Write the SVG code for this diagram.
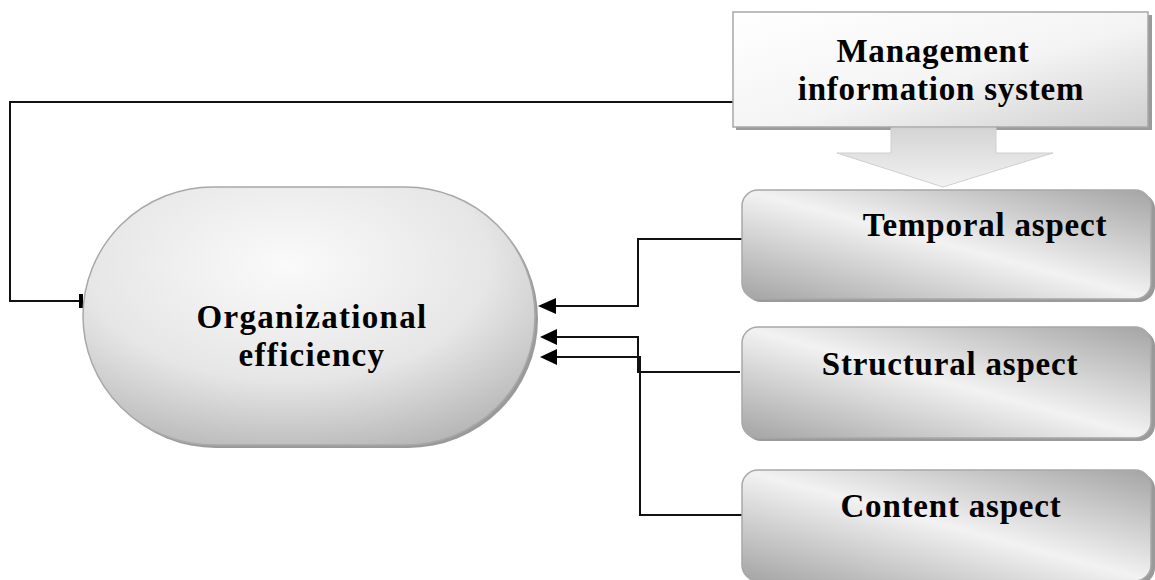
<svg xmlns="http://www.w3.org/2000/svg" width="1155" height="580" viewBox="0 0 1155 580">
<defs>
<style>
.t{font-family:"Liberation Serif","Times New Roman",serif;font-weight:bold;font-size:33px;fill:#000;text-anchor:middle;letter-spacing:0.8px}
.c{fill:none;stroke:#111;stroke-width:2}
.sh{fill:#9a9a9a}
.bx{stroke:#a8a8a8;stroke-width:1.5}
</style>
<linearGradient id="gAsp" x1="0" y1="1" x2="1" y2="0">
<stop offset="0" stop-color="#a4a4a4"/>
<stop offset="0.5" stop-color="#f2f2f2"/>
<stop offset="1" stop-color="#a4a4a4"/>
</linearGradient>
<linearGradient id="gMis" x1="0" y1="0" x2="1" y2="1">
<stop offset="0" stop-color="#ffffff"/>
<stop offset="0.55" stop-color="#f4f4f4"/>
<stop offset="1" stop-color="#cfcfcf"/>
</linearGradient>
<linearGradient id="gArr" x1="0" y1="0" x2="0" y2="1">
<stop offset="0" stop-color="#d4d4d4"/>
<stop offset="1" stop-color="#f2f2f2"/>
</linearGradient>
<radialGradient id="gOrg" cx="0.45" cy="0.3" r="0.75">
<stop offset="0" stop-color="#fafafa"/>
<stop offset="0.6" stop-color="#e6e6e6"/>
<stop offset="1" stop-color="#b8b8b8"/>
</radialGradient>
<marker id="tee" markerWidth="6" markerHeight="16" refX="4" refY="8" orient="auto" markerUnits="userSpaceOnUse">
<rect x="1" y="1" width="4" height="14" fill="#000"/>
</marker>
</defs>

<g id="connectors">
<polyline class="c" points="733,102 10,102 10,301 82,301" marker-end="url(#tee)"/>
<polyline class="c" points="742,239 638,239 638,306 545,306"/>
<polyline class="c" points="740,372 638,372 638,337 545,337"/>
<polyline class="c" points="742,515 640,515 640,357 545,357"/>
<path d="M538,306 L556,298 L556,314 z M540,337 L557,329 L557,345 z M540,357 L557,349 L557,365 z" fill="#000"/>
</g>

<g id="org">
<rect x="86" y="190" width="452" height="258" rx="130" ry="129" class="sh"/>
<rect x="83" y="187" width="452" height="258" rx="130" ry="129" fill="url(#gOrg)" class="bx"/>
<text class="t" x="312" y="328" style="letter-spacing:1.3px">Organizational</text>
<text class="t" x="312" y="366" style="letter-spacing:1.3px">efficiency</text>
</g>

<g id="mis">
<rect x="736" y="15" width="416" height="115" class="sh"/>
<rect x="733" y="12" width="415" height="115" fill="url(#gMis)" class="bx"/>
<text class="t" x="933" y="62">Management</text>
<text class="t" x="941" y="100">information system</text>
<path d="M891,128 L996,128 L996,153 L1053,153 L943,187 L837,153 L891,153 z" fill="url(#gArr)" stroke="#cfcfcf" stroke-width="1"/>
</g>

<g id="temporal">
<rect x="745" y="193" width="410" height="109" rx="16" class="sh"/>
<rect x="742" y="190" width="409" height="109" rx="16" fill="url(#gAsp)" class="bx"/>
<text class="t" x="985" y="236">Temporal aspect</text>
</g>

<g id="structural">
<rect x="745" y="330" width="410" height="111" rx="16" class="sh"/>
<rect x="742" y="327" width="409" height="111" rx="16" fill="url(#gAsp)" class="bx"/>
<text class="t" x="950" y="375">Structural aspect</text>
</g>

<g id="content">
<rect x="745" y="473" width="410" height="111" rx="16" class="sh"/>
<rect x="742" y="470" width="409" height="111" rx="16" fill="url(#gAsp)" class="bx"/>
<text class="t" x="951" y="517">Content aspect</text>
</g>
</svg>
